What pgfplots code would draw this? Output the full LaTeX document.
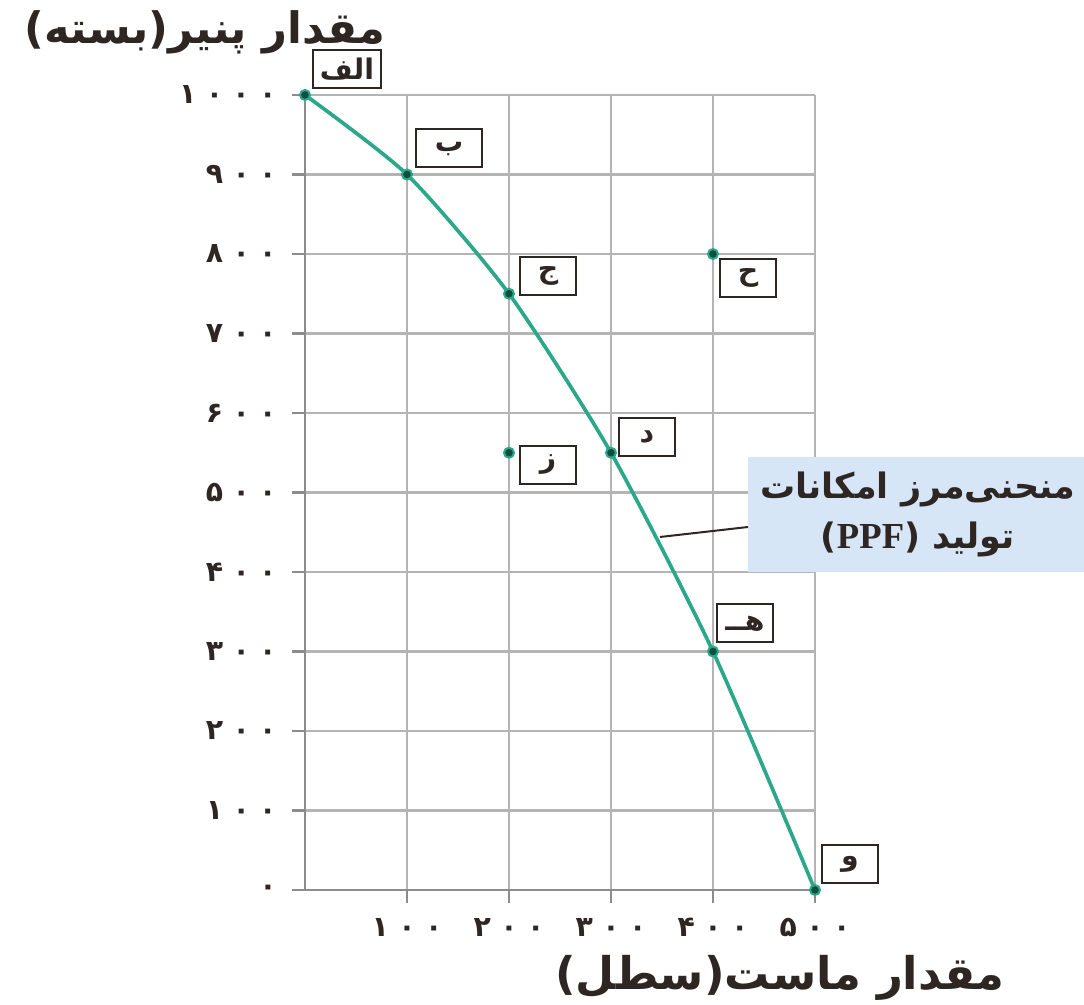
\documentclass[border=0pt]{standalone}
\usepackage{fontspec}
\usepackage{pgfplots}
\pgfplotsset{compat=1.18}
\setmainfont{Liberation Serif}
\TeXXeTstate=1
\newfontfamily\fa[Script=Arabic]{DejaVu Sans}
\definecolor{ppf}{HTML}{2BA88A}
\definecolor{dotc}{HTML}{0E4F3E}
\definecolor{txt}{HTML}{2E2622}
\definecolor{gridc}{HTML}{B4B4B4}
\definecolor{axc}{HTML}{8C8C8C}
\definecolor{note}{HTML}{D7E6F6}
\newcommand{\dg}[1]{\hbox{\fa\bfseries\fontsize{8.5}{9}\selectfont\color{txt}#1}}
\tikzset{lab/.style={draw=txt, line width=0.6pt, fill=white, minimum height=11.4pt, minimum width=17pt, inner sep=2pt, text=txt, font=\fa\bfseries\fontsize{8.5}{9}\selectfont}}
\begin{document}
\begin{tikzpicture}
\begin{axis}[
  at={(0,0)}, anchor=south west,
  scale only axis, width=153pt, height=238.5pt,
  xmin=0, xmax=500, ymin=0, ymax=1000,
  axis lines=left, axis line style={-, axc, line width=0.8pt},
  grid=major, major grid style={gridc, line width=0.7pt},
  tick align=outside, major tick length=4pt,
  tick style={axc, line width=0.8pt},
  xtick={100,200,300,400,500},
  xticklabels={\dg{۱\,\,۰\,\,۰},\dg{۲\,\,۰\,\,۰},\dg{۳\,\,۰\,\,۰},\dg{۴\,\,۰\,\,۰},\dg{۵\,\,۰\,\,۰}},
  ytick={0,100,200,300,400,500,600,700,800,900,1000},
  yticklabels={\dg{۰},\dg{۱\,\,۰\,\,۰},\dg{۲\,\,۰\,\,۰},\dg{۳\,\,۰\,\,۰},\dg{۴\,\,۰\,\,۰},\dg{۵\,\,۰\,\,۰},\dg{۶\,\,۰\,\,۰},\dg{۷\,\,۰\,\,۰},\dg{۸\,\,۰\,\,۰},\dg{۹\,\,۰\,\,۰},\dg{۱\,\,۰\,\,۰\,\,۰}},
  xticklabel style={yshift=-1pt},
  yticklabel style={xshift=-1pt},
  clip=false,
]
\addplot[ppf, line width=1.1pt, smooth, tension=0.4, mark=*, mark size=1.5pt, mark options={fill=dotc, draw=ppf, line width=0.6pt}]
  coordinates {(0,1000) (100,900) (200,750) (300,550) (400,300) (500,0)};
\addplot[only marks, mark=*, mark size=1.5pt, mark options={fill=dotc, draw=ppf, line width=0.6pt}]
  coordinates {(200,550) (400,800)};
\node[lab] at (axis cs:0,1000)   [xshift=12.6pt, yshift=7.8pt]  {\beginR الف\endR};
\node[lab] at (axis cs:100,900)  [xshift=12.6pt, yshift=7.8pt, minimum width=20pt]  {\beginR ب\endR};
\node[lab] at (axis cs:200,750)  [xshift=11.7pt, yshift=5.4pt]  {\beginR ج\endR};
\node[lab] at (axis cs:400,800)  [xshift=10.5pt, yshift=-7.2pt] {\beginR ح\endR};
\node[lab] at (axis cs:200,550)  [xshift=11.7pt, yshift=-3.6pt] {\beginR ز\endR};
\node[lab] at (axis cs:300,550)  [xshift=10.8pt, yshift=4.8pt]  {\beginR د\endR};
\node[lab] at (axis cs:400,300)  [xshift=9.6pt,  yshift=8.4pt]  {\beginR هــ\endR};
\node[lab] at (axis cs:500,0)    [xshift=10.5pt, yshift=7.8pt]  {\beginR و\endR};
\end{axis}
\begin{scope}[x=0.3pt, y=-0.3pt, shift={(-91.5pt,267pt)}]
  \useasboundingbox (0,0) rectangle (1084,1004);
  \fill[note] (748,457) rectangle (1084,572);
  \draw[txt, line width=0.6pt] (660,537) -- (748,527);
  \node[align=center, text=txt, font=\fa\bfseries\fontsize{10.5}{15}\selectfont] at (918,514.5)
    {\beginR منحنی‌مرز امکانات\endR\\ \beginR تولید (\beginL{\rmfamily\bfseries\fontsize{11}{11}\selectfont PPF}\endL)\endR};
  \node[text=txt, font=\fa\bfseries\fontsize{13}{13}\selectfont] at (205,32) {\beginR مقدار پنیر(بسته)\endR};
  \node[text=txt, font=\fa\bfseries\fontsize{13.5}{13.5}\selectfont] at (780,978) {\beginR مقدار ماست(سطل)\endR};
\end{scope}
\end{tikzpicture}
\end{document}
